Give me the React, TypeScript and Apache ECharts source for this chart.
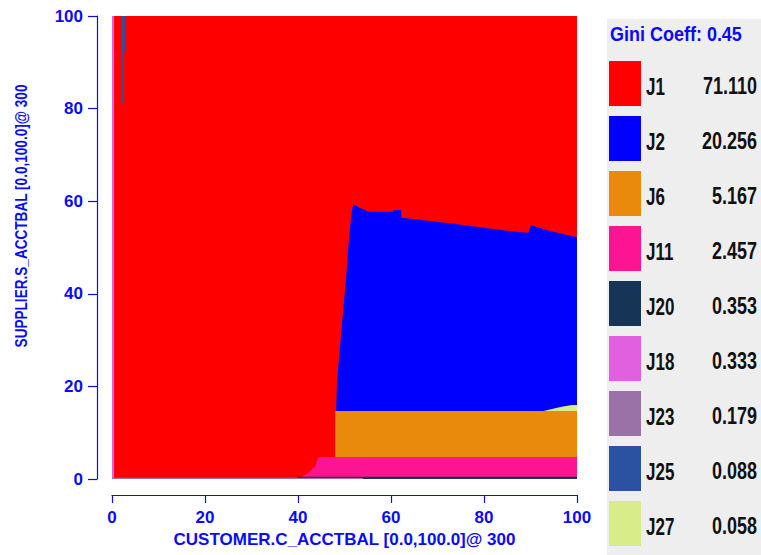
import React, { useEffect, useRef } from "react";
import * as echarts from "echarts";

// ---- legend data ----
const jobNames = ["J1", "J2", "J6", "J11", "J20", "J18", "J23", "J25", "J27"];
const jobShares = ["71.110", "20.256", "5.167", "2.457", "0.353", "0.333", "0.179", "0.088", "0.058"];
const jobColors = ["#ff0000", "#0000ff", "#e98a0c", "#fd1493", "#153456", "#e060e0", "#9a72a8", "#2a52a0", "#d9ec8a"];
const giniTitle = "Gini Coeff: 0.45";

// ---- axis data ----
const xAxisName = "CUSTOMER.C_ACCTBAL [0.0,100.0]@ 300";
const yAxisName = "SUPPLIER.S_ACCTBAL [0.0,100.0]@ 300";
const axisMin = 0;
const axisMax = 100;
const axisStep = 20;

// ---- regions (data coordinates: [x, y]) ----
const regionJ1 = [[[0, 0], [100, 0], [100, 100], [0, 100]]];
const regionJ2 = [[
  [48.2, 14.7], [48.4, 21.4], [50.3, 43.0], [50.8, 50.0], [51.2, 54.5], [51.6, 58.0], [51.9, 59.4],
  [52.5, 59.0], [53.2, 58.6], [53.9, 58.3], [54.8, 57.9], [55.5, 57.7], [60.5, 57.7], [60.5, 58.1],
  [62.2, 58.1], [62.2, 56.4], [65.5, 56.1], [68.4, 55.7], [73.3, 55.2], [79.1, 54.4], [84.9, 53.6],
  [89.5, 53.2], [90.1, 54.8], [93.5, 53.8], [96.3, 53.1], [100, 52.2], [100, 14.7],
]];
const regionJ6 = [[[48.0, 4.75], [100, 4.75], [100, 14.7], [48.0, 14.7]]];
const regionJ11 = [[
  [44.4, 4.75], [100, 4.75], [100, 0.45], [40.8, 0.45], [41.5, 0.9], [42.6, 1.6], [43.2, 2.3], [43.7, 2.7], [44.0, 3.7],
]];
const regionJ20 = [[[39.8, 0.25], [54, 0.25], [54, 0], [100, 0], [100, 0.5], [39.8, 0.5]]];
const regionJ18 = [[[0, 0], [0.45, 0], [0.45, 100], [0, 100]]];
const regionJ23 = [[[0, 0], [54, 0], [54, 0.25], [0, 0.25]]];
const regionJ25 = [
  [[2.15, 92.3], [2.85, 92.3], [2.85, 100], [2.15, 100]],
  [[2.15, 81.2], [2.45, 81.2], [2.45, 92.3], [2.15, 92.3]],
];
const regionJ27 = [[[92.8, 14.7], [94.6, 15.1], [96.7, 15.6], [98.9, 16.0], [100, 16.0], [100, 14.7]]];

// drawing order (bottom to top)
const drawOrder = [
  { name: "J1", polys: regionJ1 },
  { name: "J18", polys: regionJ18 },
  { name: "J25", polys: regionJ25 },
  { name: "J2", polys: regionJ2 },
  { name: "J6", polys: regionJ6 },
  { name: "J11", polys: regionJ11 },
  { name: "J23", polys: regionJ23 },
  { name: "J20", polys: regionJ20 },
  { name: "J27", polys: regionJ27 },
];

const BLUE = "#0a0aff";
const FONT = "Liberation Sans, Arial, sans-serif";

export default function App() {
  const ref = useRef<HTMLDivElement>(null);

  useEffect(() => {
    if (!ref.current) return;
    const chart = echarts.init(ref.current, null, { renderer: "svg" });

    const series = drawOrder.map((r) => {
      const color = jobColors[jobNames.indexOf(r.name)];
      return {
        type: "custom",
        name: r.name,
        silent: true,
        data: r.polys.map((p, i) => [p[0][0], p[0][1], i]),
        renderItem: (params: any, api: any) => {
          const poly = r.polys[params.dataIndex];
          const points = poly.map((pt) => api.coord(pt));
          return {
            type: "polygon",
            shape: { points },
            style: { fill: color, stroke: null },
          };
        },
      };
    });

    const graphics: any[] = [];
    graphics.push({
      type: "rect",
      shape: { x: 607, y: 19, width: 160, height: 540 },
      style: { fill: "#eeeeee" },
      silent: true,
    });
    graphics.push({
      type: "text",
      x: 610,
      y: 34,
      scaleY: 1.15,
      style: {
        text: giniTitle,
        fill: BLUE,
        font: `bold 18px ${FONT}`,
        align: "left",
        verticalAlign: "middle",
      },
    });
    jobNames.forEach((n, i) => {
      const top = 61 + 55 * i;
      graphics.push({
        type: "rect",
        shape: { x: 609, y: top, width: 32, height: 45 },
        style: { fill: jobColors[i] },
      });
      graphics.push({
        type: "text",
        x: 646,
        y: top + 25,
        scaleY: 1.4,
        style: { text: n, fill: "#111", font: `bold 17px ${FONT}`, align: "left", verticalAlign: "middle" },
      });
      graphics.push({
        type: "text",
        x: 757,
        y: top + 25,
        scaleY: 1.33,
        style: { text: jobShares[i], fill: "#111", font: `bold 18px ${FONT}`, align: "right", verticalAlign: "middle" },
      });
    });
    graphics.push({
      type: "text",
      x: 21,
      y: 216,
      rotation: Math.PI / 2,
      scaleX: 0.8,
      style: {
        text: yAxisName,
        fill: BLUE,
        font: `bold 17px ${FONT}`,
        align: "center",
        verticalAlign: "middle",
      },
    });

    chart.setOption({
      animation: false,
      backgroundColor: "#ffffff",
      grid: { left: 112, top: 16, width: 465, height: 463, containLabel: false },
      xAxis: {
        type: "value",
        min: axisMin,
        max: axisMax,
        interval: axisStep,
        position: "bottom",
        offset: 16,
        axisLine: { show: true, onZero: false, lineStyle: { color: BLUE, width: 1.2 } },
        axisTick: { show: true, length: 8, lineStyle: { color: BLUE, width: 1.2 } },
        axisLabel: { color: BLUE, fontSize: 17, fontWeight: "bold", fontFamily: FONT, margin: 14 },
        splitLine: { show: false },
        name: xAxisName,
        nameLocation: "middle",
        nameGap: 36,
        nameTextStyle: { color: BLUE, fontSize: 17, fontWeight: "bold", fontFamily: FONT, verticalAlign: "top" },
      },
      yAxis: {
        type: "value",
        min: axisMin,
        max: axisMax,
        interval: axisStep,
        position: "left",
        offset: 15,
        axisLine: { show: true, onZero: false, lineStyle: { color: BLUE, width: 1.2 } },
        axisTick: { show: true, length: 9, lineStyle: { color: BLUE, width: 1.2 } },
        axisLabel: { color: BLUE, fontSize: 17, fontWeight: "bold", fontFamily: FONT, margin: 14 },
        splitLine: { show: false },
      },
      graphic: { elements: graphics },
      series,
    } as any);

    return () => chart.dispose();
  }, []);

  return (
    <div
      ref={ref}
      style={{ position: "fixed", left: 0, top: 0, width: 761, height: 555, background: "#fff" }}
    />
  );
}
